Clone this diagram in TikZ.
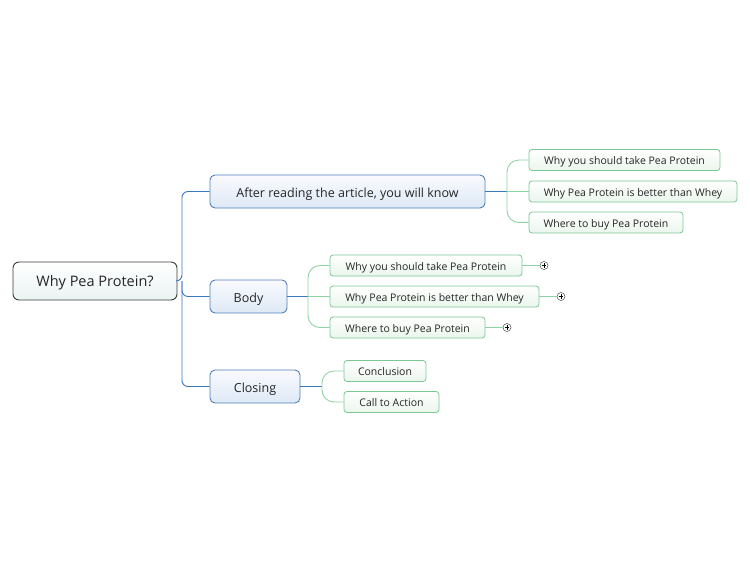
\documentclass[tikz,border=0pt]{standalone}
\usepackage{fontspec}
\setmainfont{Open Sans}
\definecolor{bline}{HTML}{3A78BE}
\definecolor{bborder}{HTML}{4F7FBA}
\definecolor{gline}{HTML}{8ED3A4}
\definecolor{gborder}{HTML}{7CC796}
\definecolor{rborder}{HTML}{3C3C3C}
\definecolor{bfill}{HTML}{DDE9F5}
\definecolor{rfill}{HTML}{EBF3F3}
\definecolor{gfill}{HTML}{EAF6EC}
\tikzset{
  rootbox/.style={draw=rborder, line width=0.9pt, rounded corners=6pt, top color=white, bottom color=rfill, minimum height=38pt, inner sep=0pt, text height=12pt, text depth=0.5pt, font=\fontsize{14.5}{16}\selectfont, text=black!85},
  mainbox/.style={draw=bborder, line width=0.9pt, rounded corners=5pt, top color=blue!2, bottom color=bfill, minimum height=33pt, inner sep=0pt, text height=13pt, text depth=0.5pt, font=\fontsize{12.5}{14}\selectfont, text=black!85},
  subbox/.style={draw=gborder, line width=0.8pt, rounded corners=3pt, top color=white, bottom color=gfill, minimum height=21pt, inner sep=0pt, text height=9.5pt, text depth=0.3pt, font=\fontsize{10.5}{12}\selectfont, text=black!85},
  bconn/.style={draw=bline, line width=0.9pt, rounded corners=6pt},
  gconn/.style={draw=gline, line width=0.9pt, rounded corners=12pt},
  plusbox/.style={circle, draw=black!70, fill=white, line width=0.5pt, minimum size=8pt, inner sep=0pt, path picture={\draw[black, line width=0.7pt] ([xshift=-2.3pt]path picture bounding box.center) -- ([xshift=2.3pt]path picture bounding box.center) ([yshift=-2.3pt]path picture bounding box.center) -- ([yshift=2.3pt]path picture bounding box.center);}},
}
\begin{document}
\begin{tikzpicture}[x=1pt,y=-1pt]
\useasboundingbox (0,0) rectangle (750,563);
% root
\node[rootbox, minimum width=164pt] (root) at (95,281) {Why Pea Protein?};
% main
\node[mainbox, minimum width=275pt] (a) at (347.5,191.5) {After reading the article, you will know};
\node[mainbox, minimum width=77pt] (b) at (248.5,296.5) {Body};
\node[mainbox, minimum width=90pt] (c) at (255,386.5) {Closing};
% sub A
\node[subbox, minimum width=191pt] (a1) at (624.5,160) {Why you should take Pea Protein};
\node[subbox, minimum width=208pt] (a2) at (633,191.5) {Why Pea Protein is better than Whey};
\node[subbox, minimum width=154pt] (a3) at (606,222.5) {Where to buy Pea Protein};
% sub B
\node[subbox, minimum width=192pt] (b1) at (426,265.5) {Why you should take Pea Protein};
\node[subbox, minimum width=209pt] (b2) at (434.5,296.5) {Why Pea Protein is better than Whey};
\node[subbox, minimum width=155pt] (b3) at (407.5,327.5) {Where to buy Pea Protein};
\node[plusbox] (p1) at (544,265.5) {};
\node[plusbox] (p2) at (561,296.5) {};
\node[plusbox] (p3) at (507,327.5) {};
% sub C
\node[subbox, minimum width=82pt] (c1) at (385,371) {Conclusion};
\node[subbox, minimum width=95pt] (c2) at (391.5,402) {Call to Action};
% blue connectors
\coordinate (rj) at (182,281);
\path[bconn] (root.east) -- (rj) |- (a.west);
\path[bconn] (rj) |- (b.west);
\path[bconn] (rj) |- (c.west);
% green connectors
\coordinate (aj) at (507,191.5);
\path[draw=bline, line width=0.9pt] (a.east) -- (aj);
\path[gconn] (aj) |- (a1.west);
\path[gconn] (aj) -- (a2.west);
\path[gconn] (aj) |- (a3.west);
\coordinate (bj) at (308,296.5);
\path[draw=bline, line width=0.9pt] (b.east) -- (bj);
\path[gconn] (bj) |- (b1.west);
\path[gconn] (bj) -- (b2.west);
\path[gconn] (bj) |- (b3.west);
\coordinate (cj) at (322,386.5);
\path[draw=bline, line width=0.9pt] (c.east) -- (cj);
\path[gconn] (cj) |- (c1.west);
\path[gconn] (cj) |- (c2.west);
\path[draw=gline, line width=0.9pt] (b1.east) -- (p1.west);
\path[draw=gline, line width=0.9pt] (b2.east) -- (p2.west);
\path[draw=gline, line width=0.9pt] (b3.east) -- (p3.west);
\end{tikzpicture}
\end{document}
